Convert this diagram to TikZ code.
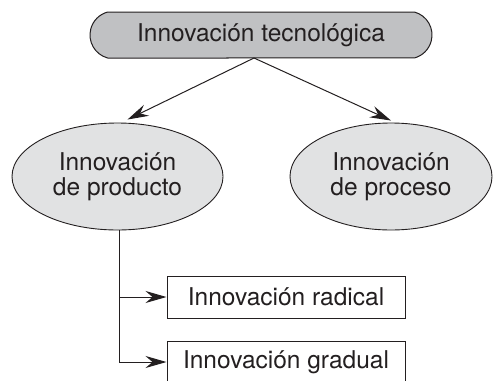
\documentclass[tikz,border=0pt]{standalone}
\usepackage{fontspec}
\setmainfont{TeX Gyre Heros}
\usepackage{tikz}
\usetikzlibrary{positioning,arrows.meta,shapes.geometric,shapes.misc}
\definecolor{innoink}{HTML}{231F20}
\definecolor{innodark}{HTML}{C0C1C3}
\definecolor{innolight}{HTML}{E1E2E3}
\tikzset{
  topbox/.style={rounded rectangle, rounded rectangle arc length=150, draw=innoink, fill=innodark,
                 line width=1pt, minimum width=342pt, minimum height=46pt, inner sep=0pt,
                 font=\fontsize{24.5}{25.5}\selectfont, text=innoink},
  kindell/.style={ellipse, draw=innoink, fill=innolight, line width=0.9pt, inner sep=0pt,
                  minimum height=107pt, align=center, text=innoink,
                  font=\fontsize{24.5}{25.5}\selectfont},
  typebox/.style={draw=innoink, fill=white, line width=1pt, minimum width=238pt,
                  minimum height=42pt, inner sep=0pt, text=innoink,
                  font=\fontsize{24.5}{25.5}\selectfont},
  flowarr/.style={-{Stealth[length=21pt,width=12pt,inset=7pt]}, line width=1pt, draw=innoink},
}
\begin{document}
\begin{tikzpicture}[x=1pt,y=-1pt]
  \useasboundingbox (0,0) rectangle (494,380);
  % top level
  \node[topbox] (tech) at (261,35) {Innovación tecnológica};
  \coordinate (split) at (254,58);
  % two kinds
  \node[kindell, minimum width=211pt] (prod) at (117.5,176.5) {Innovación\\de producto};
  \node[kindell, minimum width=202pt] (proc) at (391,176.5) {Innovación\\de proceso};
  \draw[flowarr] (split) -- ([xshift=10pt,yshift=3pt]prod.north);
  \draw[flowarr] (split) -- ([yshift=2pt]proc.north);
  % product innovation degrees
  \node[typebox] (rad) at (286,297) {Innovación radical};
  \node[typebox] (grad) at (286,362) {Innovación gradual};
  \draw[flowarr] ([xshift=1.5pt]prod.south) |- (grad.west);
  \draw[flowarr] ([xshift=1.5pt]prod.south |- rad.west) -- (rad.west);
\end{tikzpicture}
\end{document}
